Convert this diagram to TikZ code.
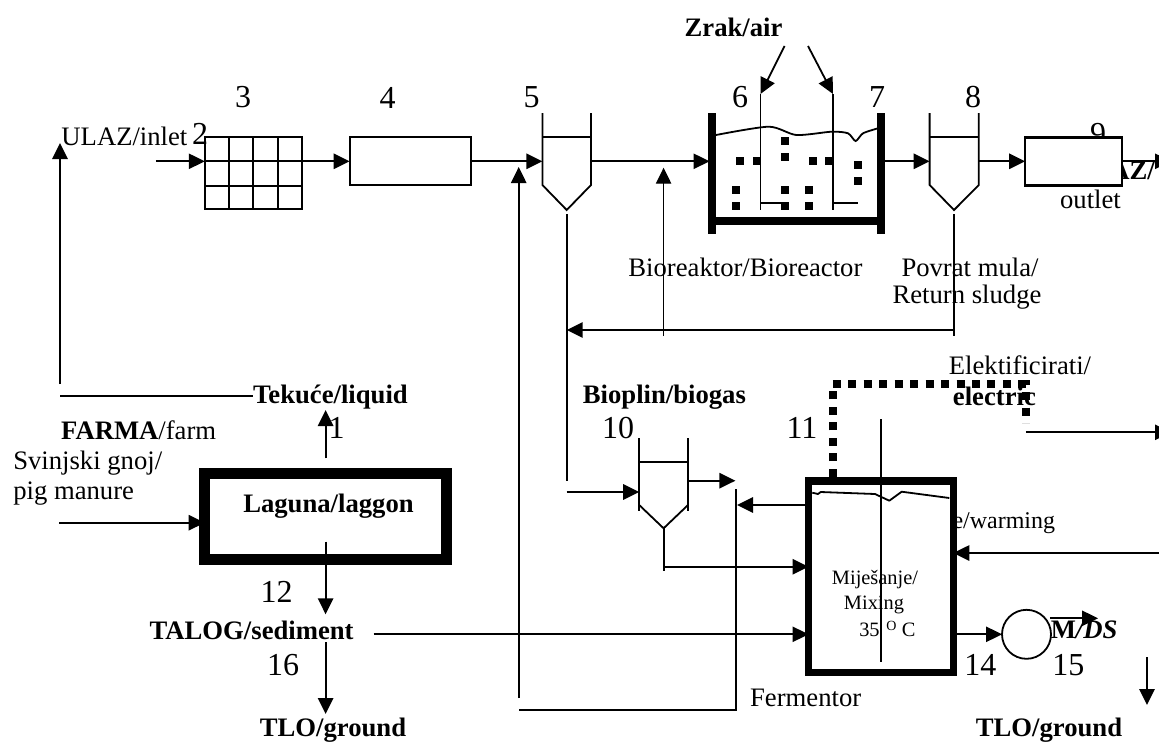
\documentclass[tikz,border=0pt]{standalone}
\usepackage{fontspec}
\setmainfont{Liberation Serif}
\usetikzlibrary{arrows.meta,calc}
\tikzset{
  lab/.style={inner sep=0pt,font=\fontsize{20}{22}\selectfont},
  blab/.style={inner sep=0pt,font=\fontsize{20}{22}\selectfont\bfseries},
  num/.style={inner sep=0pt,font=\fontsize{24}{26}\selectfont},
  smalllab/.style={inner sep=0pt,font=\fontsize{15.3}{17}\selectfont},
  ln/.style={line width=1.35pt,black},
  thinln/.style={line width=1pt,black},
  arr/.style={ln,-{Triangle[length=12pt,width=11.5pt]}},
  thinarr/.style={thinln,-{Triangle[length=12pt,width=11.5pt]}},
  boxn/.style={draw,ln,fill=white,rectangle,inner sep=0pt,outer sep=0pt},
  wall/.style={line width=6pt,black},
  dots/.style={line width=5.8pt,black,dash pattern=on 6pt off 5.6pt},
}
\begin{document}
\begin{tikzpicture}[x=0.75pt,y=-0.75pt]
\useasboundingbox (0,0) rectangle (1159,743);
\clip (0,0) rectangle (1159,743);

% ---- texts hidden partly behind boxes
\node[num] (n9) at (1098,134) {9};
\node[blab,anchor=east] (izlaz) at (1155,171) {AZ/};
\node[lab,font=\fontsize{18}{20}\selectfont,anchor=east] (warm) at (1055.4,523) {e/warming};

% ---- unit boxes
\node[boxn,minimum width=72.8pt,minimum height=54pt] (grid3) at (253.3,173.3) {};
\foreach \gx in {229,253.3,277.7}{\draw[ln] (\gx,137.3) -- (\gx,209.3);}
\draw[ln] (205,161.3) -- (301.7,161.3);
\draw[ln] (205,186) -- (301.7,186);
\node[boxn,minimum width=91.05pt,minimum height=36pt] (box4) at (410.3,161.3) {};
\node[boxn,line width=1.8pt,minimum width=72.5pt,minimum height=36pt] (box9) at (1073.4,161.3) {};
\node[boxn,line width=8.25pt,minimum width=181.35pt,minimum height=64.5pt] (lagoon) at (325.6,516.5) {};
\node[boxn,line width=5.6pt,minimum width=108.6pt,minimum height=143.6pt] (ferm) at (880.9,576.7) {};
\node[boxn,circle,minimum size=36.75pt] (pump) at (1026.5,634.3) {};

% ---- clarifiers
\coordinate (cl5) at (542.4,161.3);
\coordinate (cl5r) at (591,161.3);
\coordinate (cl5tip) at (566.7,210);
\draw[ln] (542.4,113) -- (542.4,185) -- (cl5tip) -- (591,185) -- (591,113);
\draw[ln] (542.4,137) -- (591,137);
\coordinate (cl8) at (929.6,161.3);
\coordinate (cl8r) at (978.8,161.3);
\coordinate (cl8tip) at (954,210);
\draw[ln] (929.6,113) -- (929.6,185) -- (cl8tip) -- (978.8,185) -- (978.8,113);
\draw[ln] (929.6,137) -- (978.8,137);
\coordinate (cl10) at (639.2,492);
\coordinate (cl10r) at (688,480.7);
\coordinate (cl10tip) at (663.6,528.3);
\draw[ln] (639.2,438) -- (639.2,511);
\draw[ln] (688,438) -- (688,511);
\draw[ln] (639.2,505) -- (cl10tip) -- (688,505);
\draw[ln] (639.2,462.3) -- (688,462.3);

% ---- bioreactor
\draw[wall] (712,113) -- (712,234);
\draw[wall] (881,113) -- (881,234);
\draw[wall] (712,221) -- (881,221);
\coordinate (bioIn) at (709.5,161.3);
\coordinate (bioOut) at (885,161.3);
\draw[ln] plot[smooth,tension=.45] coordinates {(716,135) (768.7,126.7) (796.4,135) (831.6,131.7) (848,133.3) (855.6,141) (863,133.3) (878,128.3)};
\foreach \dx/\dy in {739.8/161.3,756.5/161.3,784.6/141.3,784.6/157,812.7/161.3,829/161.3,857.5/165.3,857.5/181,736.1/189.7,736.1/205.7,784.6/189.7,784.6/205.7,809/189.7,809/205.7}{
  \fill (\dx-4,\dy-4) rectangle (\dx+4,\dy+4);}
\coordinate (airA) at (784.6,46);
\coordinate (airAt) at (760.5,94);
\coordinate (airB) at (808,46);
\coordinate (airBt) at (833,94);
\draw[ln] (airAt) -- (760.5,210);
\draw[ln] (760.5,202.7) -- (784.6,202.7);
\draw[ln] (833,94) -- (833,210);
\draw[ln] (833,202.7) -- (857.5,202.7);
\draw[arr] (airA) -- (airAt);
\draw[arr] (airB) -- (airBt);

% ---- main line connectors
\coordinate (inletS) at (155.8,161.3);
\draw[arr] (inletS) -- (grid3.west |- inletS);
\draw[arr] (grid3.east |- inletS) -- (box4.west);
\draw[arr] (box4.east) -- (cl5);
\draw[arr] (cl5r) -- (bioIn);
\draw[arr] (bioOut) -- (cl8);
\draw[arr] (cl8r) -- (box9.west);
\coordinate (outEnd) at (1171,161.3);
\draw[arr] (box9.east) -- (outEnd);

% ---- return sludge
\coordinate (retA) at (953.6,214);
\coordinate (retB) at (953.6,336);
\coordinate (retC) at (953.6,330);
\coordinate (retT) at (566.7,330);
\draw[ln] (retA) -- (retB);
\draw[arr] (retC) -- (retT);
\coordinate (recB) at (663.6,336);
\coordinate (recT) at (663.6,167.7);
\draw[thinarr] (recB) -- (recT);

% ---- sludge line 5 -> 10
\coordinate (s5a) at (566.7,214);
\coordinate (s5b) at (566.7,481);
\coordinate (s5c) at (566.7,492);
\draw[ln] (s5a) -- (s5b);
\draw[arr] (s5c) -- (cl10);

% ---- left inlet
\coordinate (ulazB) at (60,384);
\coordinate (ulazT) at (60,143);
\draw[arr] (ulazB) -- (ulazT);
\coordinate (liqL) at (60,395.7);
\coordinate (liqR) at (253,395.7);
\draw[ln] (liqL) -- (liqR);

% ---- lagoon connectors
\coordinate (lagT) at (325.6,458.3);
\coordinate (lagTt) at (325.6,410);
\draw[arr] (lagT) -- (lagTt);
\coordinate (manure) at (59.2,522.7);
\draw[arr] (manure) -- (manure -| lagoon.west);
\coordinate (lagB) at (325.6,541.7);
\coordinate (lagBt) at (325.6,614.3);
\draw[arr] (lagB) -- (lagBt);
\coordinate (tlS) at (325.6,642.3);
\coordinate (tlT) at (325.6,714);
\draw[arr] (tlS) -- (tlT);

% ---- supernatant return line
\coordinate (supA) at (736,489);
\coordinate (supB) at (736,710);
\coordinate (supC) at (518.7,710);
\coordinate (supD) at (518.7,698);
\coordinate (supE) at (518.7,167);
\draw[ln] (supA) -- (supB) -- (supC);
\draw[arr] (supD) -- (supE);

% ---- fermentor connectors
\coordinate (cl10b) at (663.6,571);
\coordinate (cl10c) at (663.6,566.7);
\draw[ln] (cl10tip) -- (cl10b);
\draw[arr] (cl10c) -- (cl10c -| ferm.west);
\coordinate (gasT) at (735.4,480.7);
\draw[arr] (cl10r) -- (gasT);
\coordinate (fermOutT) at (737,505);
\draw[arr] (fermOutT -| ferm.west) -- (fermOutT);
\coordinate (sed) at (373.7,634.3);
\draw[arr] (sed) -- (sed -| ferm.west);
\draw[arr] (pump -| ferm.east) -- (pump.west);
\coordinate (warmS) at (1171,553);
\draw[arr] (warmS) -- (warmS -| ferm.east);

% ---- fermentor contents
\draw[ln,line join=round] (812.3,492.7) -- (818,494) -- (820.7,492) -- (875,494) -- (889.3,500.7) -- (901.7,491.7) -- (949.3,498);
\coordinate (mixT) at (881,419);
\coordinate (mixB) at (881,661.7);
\draw[ln] (mixT) -- (mixB);

% ---- electric dotted line
\coordinate (dA) at (832.7,476.7);
\coordinate (dB) at (832.7,384);
\coordinate (dC) at (1025.8,384);
\coordinate (dD) at (1025.8,423);
\draw[dots] (dA) -- (dB) -- (dC) -- (dD);
\coordinate (elS) at (1025.8,432.3);
\coordinate (elE) at (1171,432.3);
\draw[arr] (elS) -- (elE);

% ---- M/DS
\coordinate (mdsA) at (1049.8,618.3);
\coordinate (mdsB) at (1098,618.3);
\draw[arr] (mdsA) -- (mdsB);
\coordinate (mdsC) at (1147,657);
\coordinate (mdsD) at (1147,705);
\draw[arr] (mdsC) -- (mdsD);

% ---- labels
\node[blab] (zrak) at (733.5,27.7) {Zrak/air};
\node[num] (n3) at (243,97.5) {3};
\node[num] (n4) at (387.7,97.5) {4};
\node[num] (n5) at (531.6,97.5) {5};
\node[num] (n6) at (740,97.5) {6};
\node[num] (n7) at (877,97.5) {7};
\node[num] (n8) at (973,97.5) {8};
\node[lab,anchor=west] (ulaz) at (61.2,136.7) {ULAZ/inlet};
\node[num] (n2) at (200,134) {2};
\node[lab] (outlet) at (1090.5,199) {outlet};
\node[lab] (biore) at (745.4,267) {Bioreaktor/Bioreactor};
\node[lab] (povrat) at (970,267) {Povrat mula/};
\node[lab] (retsl) at (967,297) {Return sludge};
\node[lab] (elek) at (1020,365) {Elektificirati/};
\node[blab] (electric) at (994.4,396.7) {electric};
\node[blab] (tekuce) at (330.4,396.7) {Tekuće/liquid};
\node[blab] (bioplin) at (664.4,396.7) {Bioplin/biogas};
\node[lab] (farma) at (138.7,430.7) {\textbf{FARMA}/farm};
\node[num] (n1) at (336.7,428) {1};
\node[num] (n10) at (618,428) {10};
\node[num] (n11) at (802,428) {11};
\node[lab,anchor=west] (svin) at (13,462.7) {Svinjski gnoj/};
\node[lab,anchor=west] (pig) at (13,494) {pig manure};
\node[blab] (lagl) at (328.5,506) {Laguna/laggon};
\node[smalllab] (mij) at (875,580) {Miješanje/};
\node[smalllab] (mix) at (874,605) {Mixing};
\node[smalllab,anchor=base west] (temp) at (859,636) {35\hspace{5pt}\raisebox{0.6ex}{\fontsize{10.5}{12}\selectfont O}\hspace{4pt}C};
\node[num] (n12) at (276.7,591.7) {12};
\node[blab] (talog) at (251.6,630.7) {TALOG/sediment};
\node[blab,anchor=west] (mds) at (1050.5,630) {M\textit{/DS}};
\node[num] (n16) at (283,665) {16};
\node[num] (n14) at (980.3,665) {14};
\node[num] (n15) at (1068.3,665) {15};
\node[lab] (fermlab) at (805.7,698.3) {Fermentor};
\node[blab] (tlo1) at (333,730) {TLO/ground};
\node[blab] (tlo2) at (1049,730) {TLO/ground};
\end{tikzpicture}
\end{document}
